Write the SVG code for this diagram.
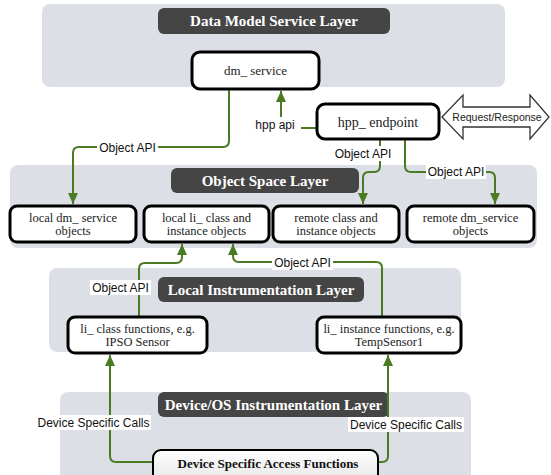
<svg xmlns="http://www.w3.org/2000/svg" width="551" height="475" viewBox="0 0 551 475">
<defs>
<marker id="ah" markerUnits="userSpaceOnUse" markerWidth="12" markerHeight="12" viewBox="0 0 12 12" refX="11" refY="6" orient="auto">
<path d="M0,1 L11,6 L0,11 Z" fill="#4a7a22"/>
</marker>
<linearGradient id="g1" x1="0" y1="0" x2="0" y2="1">
<stop offset="0" stop-color="#ffffff"/>
<stop offset="1" stop-color="#e6e6e6"/>
</linearGradient>
<style>
.layer{fill:#dce0e6}
.title{fill:#454545}
.tt{font-family:"Liberation Serif",serif;font-weight:bold;font-size:15px;fill:#ffffff;text-anchor:middle}
.node{fill:#ffffff;stroke:#000000;stroke-width:3}
.nt{font-family:"Liberation Serif",serif;font-size:12.5px;fill:#222;text-anchor:middle}
.c{fill:none;stroke:#4a7a22;stroke-width:2}
.lbg{fill:#ffffff}
.lt{font-family:"Liberation Sans",Arial,sans-serif;font-size:12px;fill:#111;text-anchor:middle}
</style>
</defs>

<g id="layer-dm">
<rect class="layer" x="42" y="4" width="463" height="83" rx="8"/>
<rect class="title" x="158" y="8" width="232" height="26" rx="6"/>
<text class="tt" x="274" y="26">Data Model Service Layer</text>
</g>
<g id="layer-os">
<rect class="layer" x="10" y="165" width="527" height="83" rx="8"/>
<rect class="title" x="171" y="168" width="188" height="25" rx="6"/>
<text class="tt" x="265" y="186">Object Space Layer</text>
</g>
<g id="layer-li">
<rect class="layer" x="49" y="268" width="412" height="84" rx="8"/>
<rect class="title" x="158" y="277" width="206" height="25" rx="6"/>
<text class="tt" x="261" y="295">Local Instrumentation Layer</text>
</g>
<g id="layer-dev">
<rect class="layer" x="60" y="392" width="411" height="95" rx="8"/>
<rect class="title" x="158" y="392" width="231" height="25" rx="6"/>
<text class="tt" x="273.5" y="410">Device/OS Instrumentation Layer</text>
</g>

<g id="connectors">
<path class="c" d="M317,128 L281,128 L281,91" marker-end="url(#ah)"/>
<path class="c" d="M229,89 L229,141 Q229,147 223,147 L79,147 Q73,147 73,153 L73,204" marker-end="url(#ah)"/>
<path class="c" d="M380,139 L380,166 Q380,172 374,172 L369,172 Q363,172 363,178 L363,204" marker-end="url(#ah)"/>
<path class="c" d="M405,139 L405,166 Q405,172 411,172 L489,172 Q495,172 495,178 L495,204" marker-end="url(#ah)"/>
<path class="c" d="M139,317 L139,269 Q139,263 145,263 L176,263 Q182,263 182,257 L182,244" marker-end="url(#ah)"/>
<path class="c" d="M382,317 L382,268 Q382,262 376,262 L239,262 Q233,262 233,256 L233,244" marker-end="url(#ah)"/>
<path class="c" d="M153,462 L116,462 Q110,462 110,456 L110,355" marker-end="url(#ah)"/>
<path class="c" d="M377,462 L382,462 Q388,462 388,456 L388,355" marker-end="url(#ah)"/>
<rect class="lbg" x="249" y="117" width="52" height="15"/>
<text class="lt" x="275" y="129">hpp api</text>
<rect class="lbg" x="97" y="140" width="61" height="15"/>
<text class="lt" x="127.5" y="152">Object API</text>
<rect class="lbg" x="333" y="146" width="60" height="15"/>
<text class="lt" x="363" y="158">Object API</text>
<rect class="lbg" x="426" y="164" width="60" height="15"/>
<text class="lt" x="456" y="176">Object API</text>
<rect class="lbg" x="90" y="280" width="61" height="15"/>
<text class="lt" x="120.5" y="292">Object API</text>
<rect class="lbg" x="272" y="255" width="61" height="15"/>
<text class="lt" x="302.5" y="266.5">Object API</text>
<rect class="lbg" x="36" y="415" width="115" height="15"/>
<text class="lt" x="93.5" y="427">Device Specific Calls</text>
<rect class="lbg" x="348" y="417" width="116" height="15"/>
<text class="lt" x="406" y="429">Device Specific Calls</text>
</g>

<g id="dm_service">
<rect class="node" x="192" y="52" width="127" height="37" rx="8" stroke-width="3.5"/>
<text class="nt" x="255.5" y="75" style="font-size:13px">dm_ service</text>
</g>
<g id="hpp_endpoint">
<rect class="node" x="317" y="104" width="122" height="35" rx="8" stroke-width="3.5"/>
<text class="nt" x="378" y="126.5" style="font-size:14px">hpp_ endpoint</text>
</g>
<g id="request_response">
<polygon points="442,117 463,95 463,107 530,107 530,95 549,117 530,139 530,127 463,127 463,139" fill="#ffffff" stroke="#333" stroke-width="1.3"/>
<text x="497" y="120.5" font-family="Liberation Sans, Arial, sans-serif" font-size="10.5" fill="#222" text-anchor="middle">Request/Response</text>
</g>
<g id="local_dm_service_objects">
<rect class="node" x="10" y="206" width="126" height="36" rx="7"/>
<text class="nt" x="73" y="222">local dm_ service</text>
<text class="nt" x="73" y="235">objects</text>
</g>
<g id="local_li_objects">
<rect class="node" x="144" y="206" width="125" height="36" rx="7"/>
<text class="nt" x="206.5" y="222">local li_ class and</text>
<text class="nt" x="206.5" y="235">instance objects</text>
</g>
<g id="remote_class_objects">
<rect class="node" x="273" y="206" width="126" height="36" rx="7"/>
<text class="nt" x="336" y="222">remote class and</text>
<text class="nt" x="336" y="235">instance objects</text>
</g>
<g id="remote_dm_service_objects">
<rect class="node" x="407" y="206" width="127" height="36" rx="7"/>
<text class="nt" x="470.5" y="222">remote dm_service</text>
<text class="nt" x="470.5" y="235">objects</text>
</g>
<g id="li_class_functions">
<rect class="node" x="68" y="317" width="139" height="36" rx="7"/>
<text class="nt" x="137.5" y="333">li_ class functions, e.g.</text>
<text class="nt" x="137.5" y="346">IPSO Sensor</text>
</g>
<g id="li_instance_functions">
<rect class="node" x="317" y="317" width="144" height="36" rx="7"/>
<text class="nt" x="389" y="333">li_ instance functions, e.g.</text>
<text class="nt" x="389" y="346">TempSensor1</text>
</g>
<g id="device_access_functions">
<rect x="153" y="450" width="225" height="32" rx="8" fill="url(#g1)" stroke="#000" stroke-width="2"/>
<text x="268" y="467.5" font-family="Liberation Serif, serif" font-weight="bold" font-size="13" fill="#111" text-anchor="middle">Device Specific Access Functions</text>
</g>
</svg>
